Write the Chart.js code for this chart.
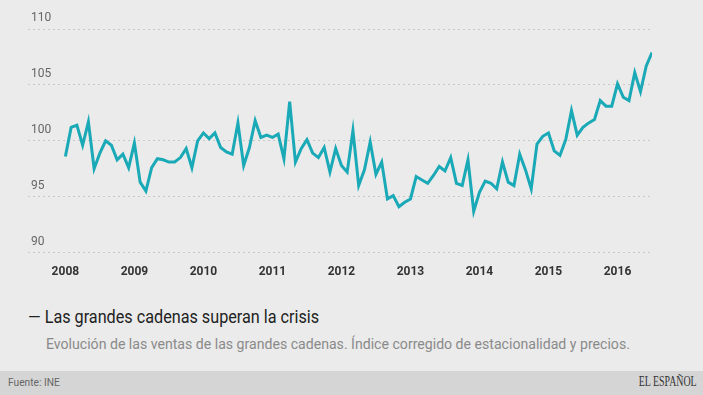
<!DOCTYPE html>
<html>
<head>
<meta charset="utf-8">
<script src="https://cdn.jsdelivr.net/npm/chart.js@4"></script>
<style>
  html, body { margin: 0; padding: 0; }
  body { width: 703px; height: 395px; background: #ebebeb; position: relative; overflow: hidden; font-family: Roboto, sans-serif; }
  #chart { position: absolute; left: 0; top: 0; }
  .txt { position: absolute; white-space: nowrap; transform-origin: left center; }
  #titulo { left: 28px; top: 306px; font-size: 18px; color: #222; transform: scaleX(0.9); }
  #subtitulo { left: 46px; top: 335px; font-size: 15px; color: #8a8a8a; transform: scaleX(0.94); }
  #pie { position: absolute; left: 0; top: 371px; width: 703px; height: 24px; background: #d5d5d5; }
  #fuente { left: 8px; top: 376px; font-size: 11px; color: #666; transform: scaleX(0.93); }
  #logo { right: 6px; top: 373px; font-size: 15px; color: #333; font-family: "Liberation Serif", "DejaVu Serif", serif; transform: scaleX(0.66); transform-origin: right center; }
</style>
</head>
<body>
<canvas id="chart" width="703" height="291"></canvas>
<div id="pie"></div>
<div class="txt" id="titulo">— Las grandes cadenas superan la crisis</div>
<div class="txt" id="subtitulo">Evolución de las ventas de las grandes cadenas. Índice corregido de estacionalidad y precios.</div>
<div class="txt" id="fuente">Fuente: INE</div>
<div class="txt" id="logo">EL ESPAÑOL</div>
<script>
// años del eje x (cada uno marca enero)
const anios = ['2008', '2009', '2010', '2011', '2012', '2013', '2014', '2015', '2016'];

// índice mensual, enero 2008 - julio 2016
const ventas = [
  98.6, 101.2, 101.4, 99.6, 101.7, 97.5, 98.9, 100.0, 99.6, 98.3, 98.8, 97.6,
  99.8, 96.3, 95.5, 97.6, 98.4, 98.3, 98.1, 98.1, 98.5, 99.3, 97.6, 100.0,
  100.7, 100.2, 100.7, 99.4, 99.0, 98.8, 101.6, 97.8, 99.4, 101.8, 100.3, 100.5,
  100.3, 100.6, 98.4, 103.5, 98.1, 99.3, 100.1, 98.9, 98.5, 99.4, 97.2, 99.3,
  97.8, 97.2, 100.9, 96.0, 97.4, 99.9, 97.0, 98.1, 94.8, 95.1, 94.1, 94.5,
  94.8, 96.8, 96.5, 96.2, 96.9, 97.7, 97.3, 98.5, 96.2, 96.0, 98.3, 93.7,
  95.4, 96.4, 96.2, 95.7, 98.1, 96.3, 96.0, 98.8, 97.4, 95.7, 99.7, 100.4,
  100.7, 99.1, 98.7, 100.1, 102.7, 100.5, 101.2, 101.6, 101.9, 103.6, 103.1, 103.1,
  105.1, 103.9, 103.6, 106.1, 104.4, 106.7, 107.9
];

const yMin = 90;
const yMax = 110;
const yPaso = 5;

new Chart(document.getElementById('chart'), {
  type: 'line',
  data: {
    datasets: [{
      data: ventas.map((v, i) => ({ x: i, y: v })),
      borderColor: '#1aa9b6',
      borderWidth: 3,
      pointRadius: 0,
      tension: 0,
      fill: false
    }]
  },
  options: {
    responsive: false,
    animation: false,
    layout: { padding: { left: 28, right: 51, top: 29, bottom: 0 } },
    plugins: { legend: { display: false }, tooltip: { enabled: false } },
    scales: {
      x: {
        type: 'linear',
        min: -6.5,
        max: ventas.length - 1,
        grid: { display: false, drawTicks: false },
        border: { display: false },
        afterBuildTicks: scale => {
          scale.ticks = anios.map((a, k) => ({ value: k * 12 }));
        },
        ticks: {
          padding: 12,
          maxRotation: 0,
          autoSkip: false,
          color: '#333',
          font: { family: 'Roboto', size: 12, weight: 'bold' },
          callback: v => anios[v / 12]
        }
      },
      y: {
        min: yMin,
        max: yMax,
        grid: { color: '#c8c8c8', lineWidth: 1, drawTicks: false },
        border: { display: false, dash: [2, 3] },
        afterFit: scale => { scale.width = 0; },
        ticks: {
          stepSize: yPaso,
          mirror: true,
          padding: 3,
          labelOffset: -11,
          color: '#666',
          font: { family: 'Roboto', size: 12 }
        }
      }
    }
  }
});
</script>
</body>
</html>
